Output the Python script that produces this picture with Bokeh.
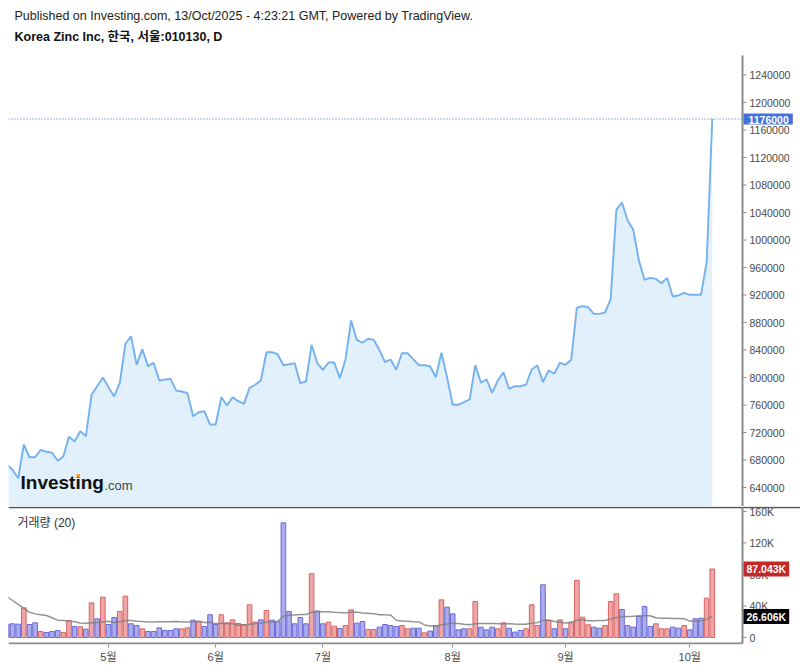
from bokeh.plotting import figure
from bokeh.models import Range1d, FixedTicker, Label, BoxAnnotation
from bokeh.layouts import column
from bokeh.embed import file_html
from bokeh.resources import INLINE
from bokeh.core.properties import value
import pandas as pd

# ---------------- data ----------------
price = [673000, 665700, 653500, 702500, 684000, 684000, 694800, 692000, 690500, 679000,
         685000, 714000, 707000, 722000, 714600, 774800, 787300, 800000, 786000, 772400,
         791700, 849000, 860000, 818500, 841200, 816500, 821400, 795600, 797000, 798000,
         781000, 779600, 777200, 743700, 749500, 751000, 731600, 731600, 771300, 759300,
         771300, 765500, 761700, 785000, 789400, 795600, 836800, 836800, 833500, 817900,
         819300, 820800, 791700, 794200, 847500, 820800, 811200, 821800, 821800, 799000,
         826200, 882900, 854800, 850500, 856300, 854800, 840300, 822300, 826200, 811200,
         835300, 835300, 826600, 817900, 817900, 816400, 800400, 835900, 800400, 760300,
         760300, 764100, 768000, 818000, 792300, 797100, 777700, 795600, 807700, 783600,
         787300, 787300, 789400, 811600, 817500, 793200, 810200, 805400, 821400, 818500,
         825700, 901400, 903700, 902300, 892600, 892600, 894500, 914500, 1043900, 1054500,
         1028400, 1014800, 970000, 942100, 945000, 943500, 937100, 945000, 917800, 919300,
         923200, 920300, 920300, 920300, 967700, 1176000]

volume_k = [17, 17.4, 16.9, 37.7, 16.5, 18.6, 7.6, 6.4, 7.6, 8.9,
            6.4, 21.2, 14, 13.6, 10.6, 44, 23.7, 51.2, 16.5, 25.4,
            33, 52.5, 17.4, 15.2, 11, 7.6, 7.6, 12.3, 8.9, 8.9,
            11, 11, 12.3, 22, 20.3, 14, 28.8, 16.5, 28.8, 18.6,
            22.4, 17.8, 16.5, 41.5, 19.5, 22.4, 34.3, 22, 20.3, 145.6,
            33, 17.4, 25.4, 17.4, 80.9, 33.5, 17.4, 19.5, 14.4, 11.4,
            15.2, 35.1, 18.2, 20.3, 10.2, 10.2, 13.1, 16.5, 15.2, 14,
            15.2, 11, 11.8, 11.8, 5.9, 8.1, 15.2, 47.8, 38.5, 30,
            9.7, 11, 11, 45.7, 13.1, 9.7, 13.1, 11, 18.6, 11.8,
            6.8, 8.9, 11, 41.5, 15.2, 66.9, 21.6, 11, 22.4, 11,
            19.5, 72.4, 25.8, 16.1, 13.1, 11.8, 15.2, 45.7, 55.5, 35.6,
            15.2, 13.1, 26.7, 39.4, 14, 17.4, 11, 11, 13.1, 11.8,
            15.2, 9.7, 23.7, 24.5, 49.9, 87.043]

# r = rising (red), b = falling (blue)
vol_dir = ("bbbrbbrbbb" "rrbrbrbrbb" "rrbbrbbbbb" "brrbrbbbrr" "rrrrrbrbbb"
           "bbbbrbbrrb" "rrbbrrbbbb" "rrbbrbbrbb" "bbrrbbbrrb" "bbrrrbrbrb"
           "rrrrbbrrrb" "bbbbbrrrbb" "rbbbrr")

# 20-day volume average: first 19 values (window reaches before the data)
ma_head_k = [52, 47, 42, 37, 32, 30, 29, 28, 25, 22, 21.5, 21, 20, 18.5, 18.2, 18.8, 19.2, 19.8, 20.5]

month_idx = [18, 37, 56, 79, 99, 121]
month_lbl = ["5월", "6월", "7월", "8월", "9월", "10월"]

price_ticks = [640000, 680000, 720000, 760000, 800000, 840000, 880000, 920000, 960000,
               1000000, 1040000, 1080000, 1120000, 1160000, 1200000, 1240000]
vol_ticks = [0, 40000, 80000, 120000, 160000]
vol_tick_lbl = ["0", "40K", "80K", "120K", "160K"]

last_price = 1176000
last_price_lbl = "1176000"
last_vol = 87043
last_vol_lbl = "87.043K"
last_ma = 26606
last_ma_lbl = "26.606K"

header1 = "Published on Investing.com, 13/Oct/2025 - 4:23:21 GMT, Powered by TradingView."
header2 = "Korea Zinc Inc, 한국, 서울:010130, D"
vol_title = "거래량 (20)"

# ---------------- derived ----------------
idx = list(range(len(price)))
vol = [v * 1000 for v in volume_k]
ma = pd.Series(vol).rolling(20).mean().tolist()
for i, v in enumerate(ma_head_k):
    ma[i] = v * 1000
fills = ["#eea6a6" if d == "r" else "#acacec" for d in vol_dir]
edges = ["#d86464" if d == "r" else "#6868d8" for d in vol_dir]
price_tick_lbl = [str(t) for t in price_ticks]

# ---------------- geometry / style ----------------
FONT = "Liberation Sans, Noto Sans CJK KR"
AX = "#8c8c8c"
LBL = "#4a4a4a"
PX = 5.643          # pixels per trading day
X0 = 6.4            # page x of first bar
def xpx(px):        # page pixel -> bar-index units
    return (px - X0) / PX

AXIS_X = xpx(742)
TICK_LEN = 4 / PX
xr = Range1d(xpx(8), xpx(800))

P_PER_PX = 40000 / 27.5
def ppx(py):        # page pixel -> price
    return 640000 + (487 - py) * P_PER_PX
V_PER_PX = 1270
def vpx(py):        # page pixel -> volume
    return (637 - py) * V_PER_PX

# ---------------- price pane (page y 0..506) ----------------
p1 = figure(frame_width=792, frame_height=506, x_range=xr, y_range=Range1d(ppx(506), ppx(0)),
            output_backend="svg", toolbar_location=None, x_axis_location=None,
            y_axis_location=None, min_border_left=8, min_border_right=0,
            min_border_top=0, min_border_bottom=0, title=None)
p1.grid.visible = False
p1.outline_line_color = None

p1.varea(x=idx, y1=ppx(506), y2=price, fill_color="#e1f0fb")
p1.line(x=idx, y=price, line_color="#74b1ef", line_width=1.9)
p1.segment(x0=xr.start, x1=AXIS_X, y0=last_price, y1=last_price, line_color="#3f68e0",
           line_width=1.2, line_dash="1 2")

# right price scale
p1.segment(x0=AXIS_X, x1=AXIS_X, y0=ppx(506), y1=ppx(55), line_color=AX, line_width=2)
p1.segment(x0=AXIS_X, x1=AXIS_X + TICK_LEN, y0=price_ticks, y1=price_ticks,
           line_color=AX, line_width=1)
p1.text(x=AXIS_X, y=price_ticks, text=price_tick_lbl, x_offset=7, text_baseline="middle",
        text_font=value(FONT), text_font_size="10.5px", text_color=LBL)
p1.add_layout(Label(x=AXIS_X, y=last_price, x_offset=1, text=last_price_lbl,
                    text_color="white", text_font=FONT, text_font_style="bold",
                    text_font_size="10.5px", text_baseline="middle",
                    background_fill_color="#4470dc",
                    padding=dict(left=5, right=4, top=2, bottom=1)))

# header and logo
p1.add_layout(Label(x=6, y=484, x_units="screen", y_units="screen", text=header1,
                    text_font=FONT, text_font_size="12.5px", text_color="#222222"))
p1.add_layout(Label(x=6, y=463, x_units="screen", y_units="screen", text=header2,
                    text_font=FONT, text_font_size="12.5px", text_font_style="bold",
                    text_color="#111111"))
p1.add_layout(Label(x=12, y=14, x_units="screen", y_units="screen", text="Investing",
                    text_font=FONT, text_font_size="19px", text_font_style="bold",
                    text_color="#111111"))
p1.add_layout(Label(x=96, y=14, x_units="screen", y_units="screen", text=".com",
                    text_font=FONT, text_font_size="13px", text_color="#444444"))
p1.add_layout(BoxAnnotation(left=68, right=71.5, bottom=29, top=32.5,
                            left_units="screen", right_units="screen",
                            bottom_units="screen", top_units="screen",
                            fill_color="#f5a623", fill_alpha=1, line_color=None))

# ---------------- volume pane (page y 506..644) ----------------
p2 = figure(frame_width=792, frame_height=138, x_range=xr, y_range=Range1d(vpx(644), vpx(506)),
            output_backend="svg", toolbar_location=None, y_axis_location=None,
            min_border_left=8, min_border_right=0, min_border_top=0, min_border_bottom=21,
            title=None)
p2.grid.visible = False
p2.outline_line_color = None

xa = p2.xaxis[0]
xa.ticker = FixedTicker(ticks=month_idx)
xa.major_label_overrides = dict(zip(month_idx, month_lbl))
xa.axis_line_color = None
xa.major_tick_line_color = AX
xa.major_tick_in = 0
xa.major_tick_out = 3
xa.minor_tick_line_color = None
xa.major_label_text_font = FONT
xa.major_label_text_font_size = "11px"
xa.major_label_text_color = LBL
xa.major_label_standoff = 3

p2.vbar(x=idx, top=vol, width=0.82, fill_color=fills, line_color=edges, line_width=1)
p2.line(x=idx, y=ma, line_color="#808080", line_width=1.5, line_alpha=0.85)

# pane separator, bottom time-axis line, right volume scale
p2.segment(x0=xr.start, x1=xr.end, y0=vpx(507), y1=vpx(507), line_color="#555555",
           line_width=1.5)
p2.segment(x0=xr.start, x1=AXIS_X, y0=vpx(643), y1=vpx(643), line_color=AX, line_width=2)
p2.segment(x0=AXIS_X, x1=AXIS_X, y0=vpx(643), y1=vpx(507), line_color=AX, line_width=2)
p2.segment(x0=AXIS_X, x1=AXIS_X + TICK_LEN, y0=vol_ticks, y1=vol_ticks,
           line_color=AX, line_width=1)
p2.text(x=AXIS_X, y=vol_ticks, text=vol_tick_lbl, x_offset=7, text_baseline="middle",
        text_font=value(FONT), text_font_size="10.5px", text_color=LBL)

p2.add_layout(Label(x=AXIS_X, y=last_vol, x_offset=1, text=last_vol_lbl,
                    text_color="white", text_font=FONT, text_font_style="bold",
                    text_font_size="10.5px", text_baseline="middle",
                    background_fill_color="#c62828",
                    padding=dict(left=3, right=3, top=2, bottom=1)))
p2.add_layout(Label(x=AXIS_X, y=last_ma, x_offset=1, text=last_ma_lbl,
                    text_color="white", text_font=FONT, text_font_style="bold",
                    text_font_size="10.5px", text_baseline="middle",
                    background_fill_color="#000000",
                    padding=dict(left=3, right=3, top=2, bottom=1)))
p2.add_layout(Label(x=9, y=115, x_units="screen", y_units="screen", text=vol_title,
                    text_font=FONT, text_font_size="12px", text_color="#333333"))

layout = column(p1, p2)
open("out.html", "w").write(file_html(layout, INLINE))
